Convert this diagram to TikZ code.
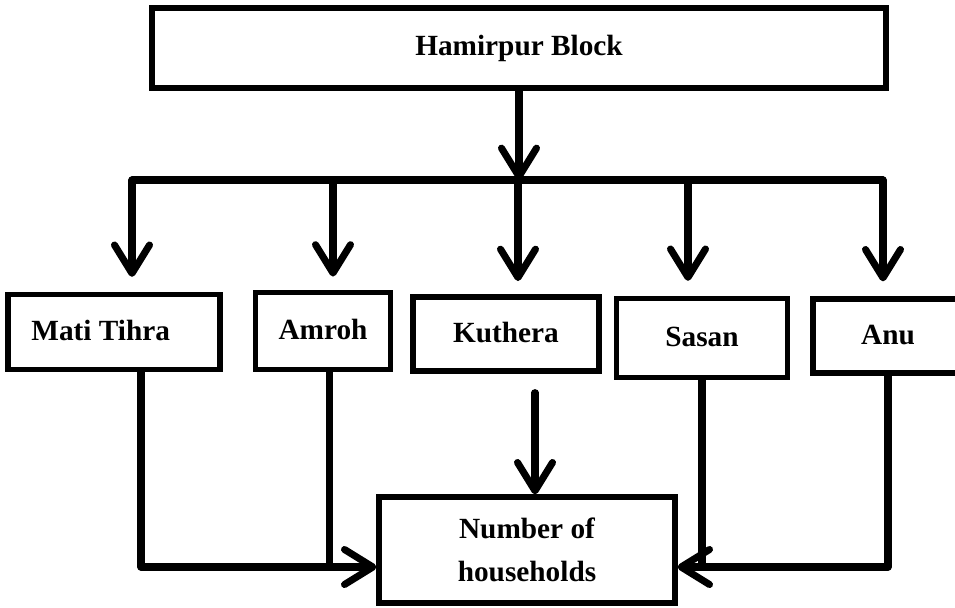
\documentclass[tikz,border=0pt]{standalone}
\usepackage{fontspec}
\setmainfont{Liberation Serif}
\usetikzlibrary{arrows.meta}
\newcommand{\pw}[1]{#1*0.03cm}
\newcommand{\drawlink}{\draw[link]}
\tikzset{
  blockbox/.style={draw, line width=4.5pt, rectangle, inner sep=0pt, align=center,
    font=\fontsize{25}{37}\selectfont\bfseries},
  link/.style={line width=6pt, line cap=round, line join=round},
  arr/.style={link, -{Straight Barb[length=0.85cm, width=1.05cm, line cap=round, line join=round]}}
}

\begin{document}
\begin{tikzpicture}[x=0.03cm, y=-0.03cm]
\useasboundingbox (0,0) rectangle (955,607);
\clip (0,0) rectangle (955,607);
% blocks
\node[blockbox, minimum width={\pw{734}}, minimum height={\pw{80}}] (hamirpur) at (519,48) {Hamirpur Block};
\node[blockbox, minimum width={\pw{212}}, minimum height={\pw{75}}] (mati) at (114,332) {Mati Tihra\strut\hspace{0.8cm}};
\node[blockbox, minimum width={\pw{135}}, minimum height={\pw{77}}] (amroh) at (323,331) {Amroh\strut};
\node[blockbox, minimum width={\pw{186}}, minimum height={\pw{74}}] (kuthera) at (506,334) {Kuthera\strut};
\node[blockbox, minimum width={\pw{171}}, minimum height={\pw{79}}] (sasan) at (702,338) {Sasan\strut};
\node[blockbox, minimum width={\pw{150}}, minimum height={\pw{74}}] (anu) at (888,336) {Anu\strut};
\node[blockbox, minimum width={\pw{296}}, minimum height={\pw{106}}] (number) at (527,550) {Number of\\households};
% bus
\coordinate (busL) at (132,180);
\coordinate (busR) at (883,180);
\coordinate (dA) at (333,180);
\coordinate (dK) at (518,180);
\coordinate (dS) at (688,180);
\drawlink (busL) -- (busR);
\draw[arr] (hamirpur.south) -- (hamirpur.south |- busL);
\draw[arr, shorten >=0.45cm] (busL) -- (busL |- mati.north);
\draw[arr, shorten >=0.4cm] (dA) -- (dA |- amroh.north);
\draw[arr, shorten >=0.4cm] (dK) -- (dK |- kuthera.north);
\draw[arr, shorten >=0.45cm] (dS) -- (dS |- sasan.north);
\draw[arr, shorten >=0.45cm] (busR) -- (busR |- anu.north);
% to households
\coordinate (joinL) at ([yshift=-0.51cm]number.west);
\coordinate (joinR) at ([yshift=-0.51cm]number.east);
\draw[arr] ([xshift=0.81cm]mati.south) |- (joinL);
\drawlink ([xshift=0.2cm]amroh.south) -- ([xshift=0.2cm]amroh.south |- joinL);
\draw[arr, shorten <=0.57cm] ([xshift=0.87cm]kuthera.south) -- ([xshift=0.87cm]kuthera.south |- number.north);
\drawlink (sasan.south) -- (sasan.south |- joinR);
\draw[arr] (anu.south) |- (joinR);
\end{tikzpicture}
\end{document}
